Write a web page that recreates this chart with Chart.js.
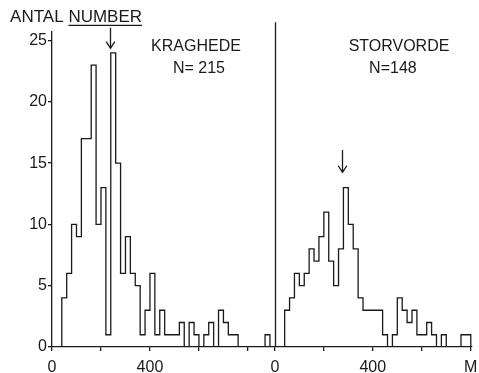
<!DOCTYPE html>
<html>
<head>
<meta charset="utf-8">
<script src="https://cdn.jsdelivr.net/npm/chart.js@4/dist/chart.umd.min.js"></script>
<style>
html,body{margin:0;padding:0;background:#fff;}
#wrap{width:479px;height:373px;position:relative;}
</style>
</head>
<body>
<div id="wrap"><canvas id="c" width="479" height="373"></canvas></div>
<script>
// Kraghede (left panel): bin edges (m) and counts
const kragEdges = [40,60,80,100,120,140,160,180,200,220,240,260,280,300,320,340,360,380,400,420,440,460,480,500,520,540,560,580,600,620,640,660,680,700,720,740,760,870,890];
const kragCounts = [4,6,10,9,17,17,23,10,13,1,24,15,6,9,6,5,1,3,6,1,3,1,1,1,2,0,2,1,0,1,2,0,3,2,1,1,0,1];
// Storvorde (right panel): bin edges (m) and counts
const storEdges = [40,60,80,100,120,140,160,180,200,220,240,260,280,300,320,340,360,380,400,420,440,460,480,500,520,540,560,580,600,620,640,660,680,700,720,740,760,780,800];
const storCounts = [3,4,6,5,6,8,7,9,11,7,5,8,13,10,8,4,3,3,3,3,1,0,1,4,3,2,3,1,1,2,1,0,1,0,0,0,1,1];
// right panel is placed after the left one on a shared axis
const panelOffset = 910;
const xMax = 1715;
const xTickValues = [0,200,400,600,800,910,1110,1310,1510,1710];
const xTickLabels = ['0','','400','','','0','','400','','M'];
const yTickValues = [0,5,10,15,20,25];
const yMax = 25.7;
// arrows (x in panel metres, y from/to in counts)
const kragArrow = {x:237, y1:26.05, y2:24.37};
const storArrow = {x:274, y1:16.07, y2:14.25};

function outline(edges, counts, off){
  const pts = [{x:edges[0]+off, y:0}];
  for(let i=0;i<counts.length;i++) pts.push({x:edges[i]+off, y:counts[i]});
  pts.push({x:edges[edges.length-1]+off, y:0});
  return pts;
}

const FONT = '"Liberation Sans", Arial, sans-serif';
const INK = '#1a1a1a';

const deco = {
  id:'deco',
  afterDraw(chart){
    const ctx = chart.ctx, xs = chart.scales.x, ys = chart.scales.y;
    ctx.save();
    ctx.strokeStyle = INK; ctx.fillStyle = INK; ctx.lineWidth = 1.3;
    // divider
    const dx = Math.round(xs.getPixelForValue(panelOffset))+0.5;
    ctx.beginPath(); ctx.moveTo(dx, ys.getPixelForValue(26.5)); ctx.lineTo(dx, ys.getPixelForValue(0)); ctx.stroke();
    // arrows
    function arrow(xv, y1, y2){
      const x = Math.round(xs.getPixelForValue(xv))+0.5;
      const p1 = ys.getPixelForValue(y1), p2 = ys.getPixelForValue(y2);
      ctx.beginPath(); ctx.moveTo(x,p1); ctx.lineTo(x,p2);
      ctx.moveTo(x-4.3,p2-6.6); ctx.lineTo(x,p2); ctx.lineTo(x+4.3,p2-6.6); ctx.stroke();
    }
    arrow(kragArrow.x, kragArrow.y1, kragArrow.y2);
    arrow(storArrow.x+panelOffset, storArrow.y1, storArrow.y2);
    // texts
    ctx.font = '16px '+FONT; ctx.textBaseline='middle'; ctx.textAlign='center';
    ctx.fillText('KRAGHEDE', xs.getPixelForValue(588), ys.getPixelForValue(24.5));
    ctx.fillText('N= 215', xs.getPixelForValue(600), ys.getPixelForValue(22.7));
    ctx.fillText('STORVORDE', xs.getPixelForValue(1417), ys.getPixelForValue(24.5));
    ctx.fillText('N=148', xs.getPixelForValue(1392), ys.getPixelForValue(22.7));
    // y title
    ctx.font = '17px '+FONT; ctx.textAlign='left';
    const tx = xs.getPixelForValue(-171), ty = ys.getPixelForValue(26.9);
    const w1 = ctx.measureText('ANTAL ').width;
    ctx.fillText('ANTAL ', tx, ty);
    ctx.fillText('NUMBER', tx+w1, ty);
    const w2 = ctx.measureText('NUMBER').width;
    ctx.beginPath(); ctx.moveTo(tx+w1, ty+8); ctx.lineTo(tx+w1+w2, ty+8); ctx.stroke();
    ctx.restore();
  }
};

new Chart(document.getElementById('c'), {
  type:'scatter',
  data:{datasets:[
    {data:outline(kragEdges,kragCounts,0), showLine:true, stepped:'before', borderColor:INK, borderWidth:1.3, pointRadius:0, fill:false},
    {data:outline(storEdges,storCounts,panelOffset), showLine:true, stepped:'before', borderColor:INK, borderWidth:1.3, pointRadius:0, fill:false}
  ]},
  options:{
    responsive:false, animation:false,
    layout:{padding:{top:32,right:7,left:0,bottom:0}},
    plugins:{legend:{display:false}, tooltip:{enabled:false}},
    scales:{
      x:{type:'linear', min:0, max:xMax,
        afterBuildTicks(s){ s.ticks = xTickValues.map(v=>({value:v})); },
        afterFit(s){ s.height = 26; s.paddingLeft = 0; s.paddingRight = 0; },
        ticks:{autoSkip:false, maxRotation:0, padding:7, color:INK, font:{family:FONT,size:16},
          callback(v){ const i = xTickValues.indexOf(v); return i>=0 ? xTickLabels[i] : ''; }},
        grid:{drawOnChartArea:false, drawTicks:true, tickLength:4, color:INK, lineWidth:1.3},
        border:{display:true, color:INK, width:1.3}
      },
      y:{type:'linear', min:0, max:yMax,
        afterBuildTicks(s){ s.ticks = yTickValues.map(v=>({value:v})); },
        afterFit(s){ s.width = 52; s.paddingTop = 0; s.paddingBottom = 0; },
        ticks:{padding:1, color:INK, font:{family:FONT,size:16}},
        grid:{drawOnChartArea:false, drawTicks:true, tickLength:4, color:INK, lineWidth:1.3},
        border:{display:true, color:INK, width:1.3}
      }
    }
  },
  plugins:[deco]
});
</script>
</body>
</html>
